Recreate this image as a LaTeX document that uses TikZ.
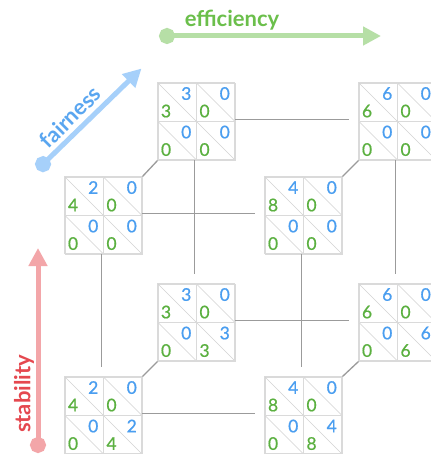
\documentclass[tikz,border=0pt]{standalone}
\usepackage{fontspec}
\setmainfont{Lato}
\newfontfamily\numfont[FakeBold=0.6]{Lato}
\usetikzlibrary{arrows.meta}
\definecolor{numblue}{HTML}{4A9EF0}
\definecolor{numgreen}{HTML}{5BB040}
\definecolor{efftext}{HTML}{6BBF4B}
\definecolor{effarrow}{HTML}{B6DFA6}
\definecolor{fairtext}{HTML}{5AA6F0}
\definecolor{fairarrow}{HTML}{A6D0FA}
\definecolor{stabtext}{HTML}{E5484F}
\definecolor{stabarrow}{HTML}{F3A6A9}
\definecolor{gridgray}{HTML}{DADADA}
\definecolor{diaggray}{HTML}{D2D2D2}
\definecolor{conngray}{HTML}{9B9B9B}
\tikzset{
  matbox/.style={rectangle, minimum width=77pt, minimum height=77pt, inner sep=0pt, fill=white, draw=gridgray, line width=0.9pt},
  cellline/.style={draw=gridgray, line width=0.9pt},
  diagline/.style={draw=diaggray, line width=0.6pt},
  numb/.style={text=numblue, inner sep=0pt, font=\numfont\fontsize{17.5}{20}\selectfont},
  numg/.style={text=numgreen, inner sep=0pt, font=\numfont\fontsize{17.5}{20}\selectfont},
  conn/.style={draw=conngray, line width=1.8pt},
  axisarrow/.style={line width=5pt, {Circle[length=16pt]}-{Triangle[length=18pt,width=18pt]}},
  axislabel/.style={font=\fontsize{22}{26}\selectfont\bfseries, inner sep=0pt}
}
\newcommand\paymat[3]{%
  \node[matbox] (#1) at (#2) {};
  \begin{scope}[shift={(#1.north west)}]
    \foreach \b/\g [count=\i from 0] in {#3} {
      \pgfmathsetmacro\cx{mod(\i,2)*38.5}
      \pgfmathsetmacro\cy{int(\i/2)*38.5}
      \draw[diagline] (\cx,\cy) -- ++(38.5,38.5);
      \draw[cellline] (\cx,\cy) rectangle ++(38.5,38.5);
      \node[numb] (#1-b\i) at (\cx+28.7,\cy+11) {\b};
      \node[numg] (#1-g\i) at (\cx+8.5,\cy+28.5) {\g};
    }
  \end{scope}
}
\begin{document}
\begin{tikzpicture}[x=1pt,y=-1pt]
\useasboundingbox[fill=white] (0,0) rectangle (430,454);

% matrices
\paymat{btl}{196.5,121.5}{3/3,0/0,0/0,0/0}
\paymat{btr}{397.5,121.5}{6/6,0/0,0/0,0/0}
\paymat{ftl}{103.5,215.5}{2/4,0/0,0/0,0/0}
\paymat{ftr}{303.5,215.5}{4/8,0/0,0/0,0/0}
\paymat{bbl}{196.5,322.5}{3/3,0/0,0/0,3/3}
\paymat{bbr}{397.5,322.5}{6/6,0/0,0/0,6/6}
\paymat{fbl}{103.5,415.5}{2/4,0/0,0/0,2/4}
\paymat{fbr}{303.5,415.5}{4/8,0/0,0/0,4/8}

% cube edges
\foreach \a/\z in {btl/btr, ftl/ftr, bbl/bbr, fbl/fbr}
  \draw[conn, shorten >=10pt] ([yshift=2pt]\a.east) -- ([yshift=2pt]\z.west);
\foreach \a/\z in {btl/bbl, btr/bbr, ftl/fbl, ftr/fbr}
  \draw[conn, shorten >=10pt] ([xshift=-2pt]\a.south) -- ([xshift=-2pt]\z.north);
\foreach \a/\z in {ftl/btl, ftr/btr, fbl/bbl, fbr/bbr}
  \draw[conn, line width=1.3pt] (\a.north east) -- (\z.south west);

% axes
\coordinate (effS) at (159,36);
\coordinate (effE) at (381,36);
\draw[axisarrow, draw=effarrow, fill=effarrow] (effS) -- (effE);
\node[axislabel, text=efftext] (efflabel) at (232,20) {efficiency};

\coordinate (fairS) at (37.3,169.7);
\coordinate (fairE) at (141.5,68.5);
\draw[axisarrow, draw=fairarrow, fill=fairarrow] (fairS) -- (fairE);
\node[axislabel, text=fairtext, rotate=45] (fairlabel) at (70,117) {fairness};

\coordinate (stabS) at (38,453);
\coordinate (stabE) at (38,248);
\draw[axisarrow, draw=stabarrow, fill=stabarrow] (stabS) -- (stabE);
\node[axislabel, text=stabtext, rotate=90] (stablabel) at (24,394) {stability};
\end{tikzpicture}
\end{document}
